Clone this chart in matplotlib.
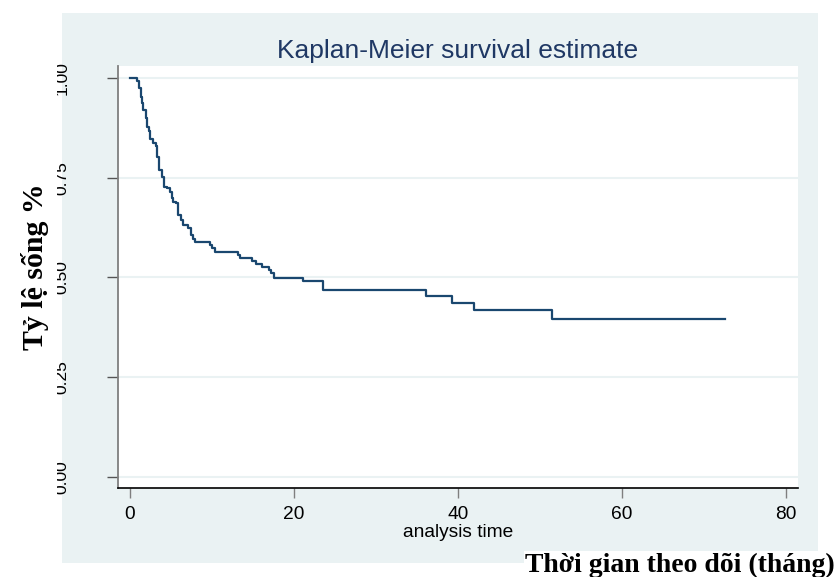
import matplotlib
matplotlib.use("Agg")
import matplotlib.pyplot as plt
from matplotlib.patches import Rectangle

# Kaplan-Meier steps: time of drop, survival after drop
times = [0, 0.85, 1.10, 1.30, 1.50, 1.63, 1.91, 2.11, 2.28, 2.44, 2.85, 3.13,
         3.33, 3.58, 3.86, 4.15, 4.47, 4.88, 5.08, 5.28, 5.57, 5.89, 6.18,
         6.50, 7.11, 7.40, 7.64, 7.93, 9.76, 10.04, 10.37, 13.21, 13.41,
         14.92, 15.33, 16.06, 16.99, 17.24, 17.56, 21.06, 23.50, 36.1, 39.3,
         42.0, 51.5, 72.6]
surv = [1.000, 0.993, 0.974, 0.953, 0.937, 0.920, 0.899, 0.878, 0.866, 0.846,
        0.836, 0.830, 0.803, 0.769, 0.751, 0.728, 0.723, 0.715, 0.698, 0.690,
        0.686, 0.657, 0.644, 0.632, 0.623, 0.607, 0.596, 0.590, 0.581, 0.574,
        0.565, 0.556, 0.548, 0.541, 0.534, 0.526, 0.519, 0.510, 0.498, 0.490,
        0.469, 0.454, 0.437, 0.419, 0.396, 0.396]
xticks = [0, 20, 40, 60, 80]
yticks = [0.0, 0.25, 0.5, 0.75, 1.0]
ytick_labels = ["0.00", "0.25", "0.50", "0.75", "1.00"]

W, H = 839, 577
SANS = ["Liberation Sans", "DejaVu Sans"]
SERIF = ["Liberation Serif", "DejaVu Serif"]
panel = "#eaf2f3"
navy = "#1a476f"

fig = plt.figure(figsize=(W / 100, H / 100), dpi=100, facecolor="white")

# stata-like light background panel
fig.add_artist(Rectangle((62 / W, 1 - 563 / H), (818 - 62) / W, (563 - 13) / H,
                         transform=fig.transFigure, facecolor=panel,
                         edgecolor="none", zorder=-10))

ax = fig.add_axes([118 / W, 1 - 488 / H, (798 - 118) / W, (488 - 66) / H])
ax.set_facecolor("white")
ax.step(times, surv, where="post", color=navy, lw=1.6, zorder=3)

ax.set_xlim(-1.46, 81.46)
ax.set_ylim(-0.0276, 1.030)
ax.set_xticks(xticks)
ax.set_yticks(yticks)
ax.set_xticklabels([str(t) for t in xticks], family=SANS, fontsize=13.8)
ax.set_yticklabels(ytick_labels, family=SANS, fontsize=12.5, rotation=90,
                   va="center")
ax.tick_params(axis="x", length=7, width=1, color="#7f7f7f", pad=6)
ax.tick_params(axis="y", length=8, width=1, color="#555555", pad=27)

ax.yaxis.grid(True, color=panel, lw=1.5, zorder=0)
ax.set_axisbelow(True)
for s in ("top", "right"):
    ax.spines[s].set_visible(False)
ax.spines["left"].set_color("#7f7f7f")
ax.spines["left"].set_linewidth(1.3)
ax.spines["bottom"].set_color("black")
ax.spines["bottom"].set_linewidth(1.2)

ax.set_xlabel("analysis time", family=SANS, fontsize=13.8, labelpad=1)
ax.set_title("Kaplan-Meier survival estimate", family=SANS, fontsize=19,
             color="#1f3864", pad=6)

# white box over the left part of the y tick labels, then the pasted label
fig.add_artist(Rectangle((0, 0), 57 / W, 1, transform=fig.transFigure,
                         facecolor="white", edgecolor="none", zorder=5))
fig.text(35 / W, 1 - 267 / H, "Tỷ lệ sống %", rotation=90, ha="center",
         va="center", family=SERIF, weight="bold", fontsize=21.5, zorder=6)
fig.text(525 / W, 1 - 572 / H, "Thời gian theo dõi (tháng)", ha="left",
         va="baseline", family=SERIF, weight="bold", fontsize=20, zorder=6,
         bbox=dict(facecolor="white", edgecolor="none", pad=1))

fig.savefig("out.png", dpi=100)
